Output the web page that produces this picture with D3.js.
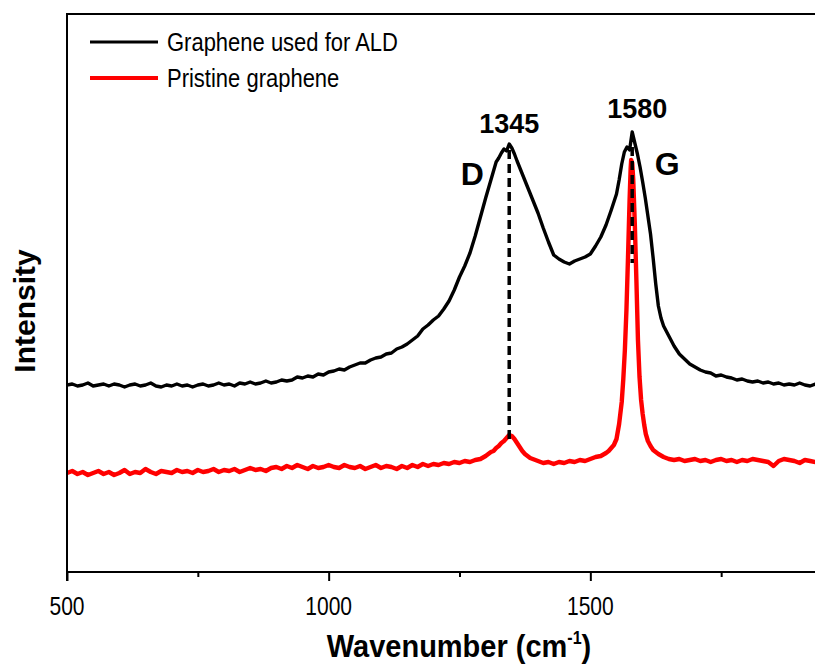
<!DOCTYPE html>
<html><head><meta charset="utf-8">
<script src="https://cdn.jsdelivr.net/npm/d3@7"></script>
<style>body{margin:0;background:#fff;} svg{display:block;font-family:Arial,"Liberation Sans",sans-serif;}</style>
</head><body><svg id="chart" width="815" height="667"></svg>
<script>
// ---- data ----
const xMajorTicks = [500, 1000, 1500];
const xMinorTicks = [750, 1250, 1750];
const seriesNames = ["Graphene used for ALD", "Pristine graphene"];
const peakPositions = [1345, 1580];
const peakNames = ["D", "G"];

// Graphene used for ALD: [wavenumber, intensity (a.u.)]
const grapheneALD = [
[500,187],[510,188],[520,186],[530,187],[540,189],[550,186],[560,187],[570,188],[580,186],[590,188],
[600,187],[610,185],[620,187],[630,188],[640,186],[650,187],[660,189],[670,186],[680,185],[690,187],
[700,186],[710,188],[720,186],[730,187],[740,185],[750,187],[760,188],[770,186],[780,187],[790,189],
[800,187],[810,188],[820,186],[830,189],[840,188],[850,190],[860,188],[870,189],[880,191],[890,189],
[900,190],[910,192],[920,191],[930,192],[940,195],[950,194],[960,196],[970,195],[980,198],[990,197],
[1000,200],[1010,201],[1020,203],[1030,202],[1040,205],[1050,207],[1060,209],[1070,209],[1080,212],[1090,214],
[1100,215],[1110,218],[1120,219],[1130,223],[1140,225],[1150,228],[1160,232],[1170,236],[1180,243],[1190,247],
[1200,252],[1210,256],[1220,263],[1230,271],[1240,282],[1250,295],[1260,306],[1270,319],[1280,336],[1290,355],
[1300,374],[1310,392],[1320,410],[1325,414],[1330,419],[1335,423],[1340,421],[1345,428],[1350,424],[1355,418],
[1360,411],[1370,398],[1380,385],[1390,372],[1400,359],[1410,344],[1420,330],[1430,317],[1440,313],[1450,310],
[1460,308],[1470,311],[1480,313],[1490,315],[1500,318],[1510,326],[1520,335],[1530,347],[1540,362],[1550,378],
[1555,392],[1560,408],[1565,420],[1570,425],[1575,422],[1580,440],[1585,429],[1590,418],[1595,405],[1600,390],
[1605,374],[1610,356],[1615,338],[1620,314],[1625,288],[1630,266],[1635,254],[1640,246],[1650,236],[1660,226],
[1670,218],[1680,213],[1690,208],[1700,205],[1710,202],[1720,200],[1730,199],[1740,196],[1750,197],[1760,195],
[1770,194],[1780,192],[1790,193],[1800,191],[1810,190],[1820,191],[1830,189],[1840,190],[1850,188],[1860,189],
[1870,187],[1880,188],[1890,187],[1900,189],[1910,187],[1920,186],[1930,188],[1940,187]
];

// Pristine graphene: [wavenumber, intensity (a.u.)]
const pristine = [
[500,99],[510,101],[520,98],[530,100],[540,97],[550,99],[560,101],[570,98],[580,100],[590,97],
[600,99],[610,102],[620,98],[630,100],[640,99],[650,103],[660,100],[670,98],[680,101],[690,100],
[700,99],[710,102],[720,100],[730,101],[740,99],[750,102],[760,100],[770,101],[780,103],[790,100],
[800,102],[810,101],[820,103],[830,100],[840,102],[850,104],[860,102],[870,103],[880,101],[890,104],
[900,105],[910,103],[920,106],[930,104],[940,107],[950,105],[960,103],[970,106],[980,104],[990,105],
[1000,107],[1010,105],[1020,104],[1030,107],[1040,105],[1050,104],[1060,106],[1070,103],[1080,105],[1090,107],
[1100,104],[1110,106],[1120,105],[1130,103],[1140,106],[1150,104],[1160,107],[1170,105],[1180,108],[1190,106],
[1200,108],[1210,107],[1220,109],[1230,108],[1240,110],[1250,109],[1260,111],[1270,110],[1280,112],[1290,113],
[1300,116],[1305,118],[1310,120],[1315,121],[1320,124],[1325,126],[1330,129],[1335,131],[1340,134],[1345,137],
[1350,136],[1355,133],[1360,129],[1365,125],[1370,121],[1375,118],[1380,116],[1385,114],[1390,113],[1400,111],
[1410,109],[1420,110],[1430,108],[1440,110],[1450,109],[1460,111],[1470,110],[1480,112],[1490,111],[1500,113],
[1510,115],[1520,116],[1530,119],[1535,121],[1540,124],[1545,127],[1550,133],[1555,148],[1560,170],[1563,193],
[1566,222],[1569,262],[1572,315],[1575,372],[1577,403],[1578,412],[1580,409],[1582,392],[1585,348],[1588,292],
[1591,232],[1594,195],[1597,172],[1600,158],[1603,147],[1606,138],[1610,131],[1615,126],[1620,122],[1630,118],
[1640,115],[1650,113],[1660,112],[1670,113],[1680,111],[1690,112],[1700,113],[1710,111],[1720,112],[1730,110],
[1740,112],[1750,113],[1760,111],[1770,112],[1780,110],[1790,112],[1800,111],[1810,113],[1820,112],[1830,111],
[1840,110],[1850,106],[1860,111],[1870,113],[1880,112],[1890,111],[1900,109],[1910,112],[1920,111],[1930,110],[1940,112]
];

// dashed guide lines: [wavenumber, top intensity, bottom intensity]
const guideD = [1345, 422, 133];
const guideG = [1580, 425, 309];

// ---- drawing ----
const svg = d3.select("#chart");
const L = 67, T = 14, B = 572, R = 852;
const x = d3.scaleLinear().domain([500, 2000]).range([L, R]);
const y = d3.scaleLinear().domain([0, 558]).range([B, T]);

svg.append("rect").attr("width", 815).attr("height", 667).attr("fill", "#fff");
svg.append("defs").append("clipPath").attr("id", "clip")
  .append("rect").attr("x", L).attr("y", T).attr("width", R - L).attr("height", B - T);

const line = d3.line().x(d => x(d[0])).y(d => y(d[1]));
const plot = svg.append("g").attr("clip-path", "url(#clip)");

plot.append("path").datum(pristine).attr("d", line)
  .attr("fill", "none").attr("stroke", "#ff0000").attr("stroke-width", 4.4).attr("stroke-linejoin", "round");
plot.append("path").datum(grapheneALD).attr("d", line)
  .attr("fill", "none").attr("stroke", "#000").attr("stroke-width", 3.4).attr("stroke-linejoin", "round");

[guideD, guideG].forEach(g => {
  plot.append("line").attr("x1", x(g[0])).attr("x2", x(g[0]))
    .attr("y1", y(g[1])).attr("y2", y(g[2]))
    .attr("stroke", "#000").attr("stroke-width", 3.5).attr("stroke-dasharray", "9,5");
});

// axes
const axMajor = d3.axisBottom(x).tickValues(xMajorTicks).tickSize(9).tickFormat("");
const axMinor = d3.axisBottom(x).tickValues(xMinorTicks).tickSize(5).tickFormat("");
const gMaj = svg.append("g").attr("transform", `translate(0,${B})`).call(axMajor);
const gMin = svg.append("g").attr("transform", `translate(0,${B})`).call(axMinor);
[gMaj, gMin].forEach(g => {
  g.select(".domain").remove();
  g.selectAll(".tick line").attr("stroke", "#000").attr("stroke-width", 2);
});

// frame
svg.append("line").attr("x1", L).attr("x2", 815).attr("y1", B).attr("y2", B).attr("stroke", "#000").attr("stroke-width", 2);
svg.append("line").attr("x1", L).attr("x2", 815).attr("y1", T).attr("y2", T).attr("stroke", "#000").attr("stroke-width", 2);
svg.append("line").attr("x1", L).attr("x2", L).attr("y1", T - 1).attr("y2", B + 9).attr("stroke", "#000").attr("stroke-width", 2);

function label(x0, y0, str, size, weight, anchor, sy, rot) {
  const g = svg.append("g").attr("transform", `translate(${x0},${y0}) rotate(${rot || 0}) scale(1,${sy || 1})`);
  return g.append("text").attr("text-anchor", anchor).attr("font-size", size)
    .attr("font-weight", weight).attr("fill", "#000").text(str);
}

xMajorTicks.forEach(t => label(x(t), 615, String(t), 21, "normal", "middle", 1.25));

const xt = label(459, 657, "Wavenumber (cm", 29, "bold", "middle", 1.1);
xt.append("tspan").attr("font-size", 16).attr("dy", -12).text("-1");
xt.append("tspan").attr("dy", 12).text(")");

label(35, 311, "Intensity", 30, "bold", "middle", 1, -90);

// legend
const legendColors = ["#000", "#ff0000"];
seriesNames.forEach((n, i) => {
  const ly = 42 + i * 36;
  svg.append("line").attr("x1", 90).attr("x2", 158).attr("y1", ly).attr("y2", ly)
    .attr("stroke", legendColors[i]).attr("stroke-width", i ? 4 : 3.2);
  label(167, ly + 9, n, 22, "normal", "start", 1.2);
});

// peak annotations
label(x(peakPositions[0]), 133, String(peakPositions[0]), 27, "bold", "middle", 1);
label(x(peakPositions[1]) + 5, 118, String(peakPositions[1]), 27, "bold", "middle", 1);
label(x(peakPositions[0]) - 37, 185, peakNames[0], 32, "bold", "middle", 1);
label(x(peakPositions[1]) + 35, 175, peakNames[1], 32, "bold", "middle", 1);
</script>
</body></html>
